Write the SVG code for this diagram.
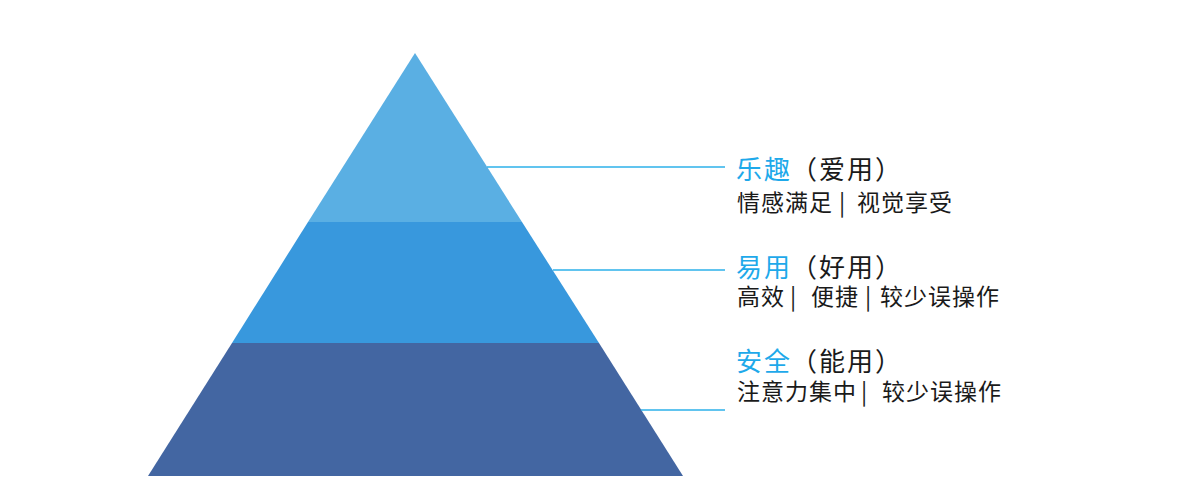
<svg xmlns="http://www.w3.org/2000/svg" width="1200" height="482" viewBox="0 0 1200 482">
<style>
.t{font-family:"Noto Sans CJK SC","Liberation Sans",sans-serif;font-size:26px;letter-spacing:2px;fill:#1a1a1a}
.b{fill:#1ea9ea}
.s{font-family:"Noto Sans CJK SC","Liberation Sans",sans-serif;font-size:23px;letter-spacing:1px;fill:#1a1a1a}
.v{font-family:"Noto Sans CJK SC","Liberation Sans",sans-serif;font-size:23px;fill:#1a1a1a;text-anchor:middle}
.c{stroke:#2db0ea;stroke-width:1.5;fill:none}
</style>
<rect width="1200" height="482" fill="#ffffff"/>
<g id="layer-top"><polygon points="415,53 522,222 308,222" fill="#5aafe3"/></g>
<g id="layer-middle"><polygon points="308,222 522,222 599,343 232,343" fill="#3898dd"/></g>
<g id="layer-bottom"><polygon points="232,343 599,343 683,476 148,476" fill="#4366a2"/></g>
<g id="connectors">
<line class="c" x1="487" y1="167" x2="725" y2="167"/>
<line class="c" x1="553" y1="270" x2="725" y2="270"/>
<line class="c" x1="641" y1="410" x2="725" y2="410"/>
</g>
<g id="label-fun">
<text class="t" x="736" y="179"><tspan class="b">乐趣</tspan><tspan x="791">（爱用）</tspan></text>
<text class="s" x="737" y="211">情感满足<tspan x="857">视觉享受</tspan></text>
<text class="v" x="842" y="211">|</text>
</g>
<g id="label-easy">
<text class="t" x="736" y="277"><tspan class="b">易用</tspan><tspan x="791">（好用）</tspan></text>
<text class="s" x="737" y="305">高效<tspan x="811">便捷</tspan><tspan x="880">较少误操作</tspan></text>
<text class="v" x="793" y="305">|</text>
<text class="v" x="868" y="305">|</text>
</g>
<g id="label-safe">
<text class="t" x="736" y="371"><tspan class="b">安全</tspan><tspan x="791">（能用）</tspan></text>
<text class="s" x="737" y="400">注意力集中<tspan x="882">较少误操作</tspan></text>
<text class="v" x="864" y="400">|</text>
</g>
</svg>
